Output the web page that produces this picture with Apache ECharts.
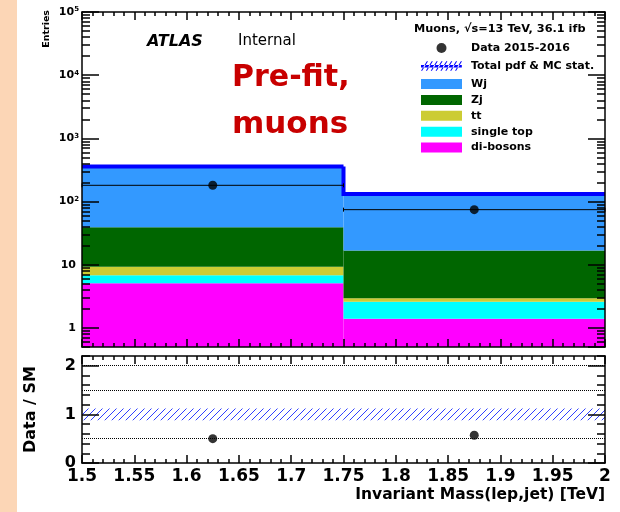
<!DOCTYPE html>
<html>
<head>
<meta charset="utf-8">
<script src="https://cdn.jsdelivr.net/npm/echarts@6/dist/echarts.min.js"></script>
<style>
html, body { margin: 0; padding: 0; background: #fff; }
#chart-container { width: 620px; height: 512px; }
</style>
</head>
<body>
<div id="chart-container"></div>
<script>
// bins of the invariant mass histogram [TeV]
const binLow = [1.5, 1.75];
const binHigh = [1.75, 2.0];
const binCenter = [1.625, 1.875];

// MC stack, bottom to top
const diBosons = [5.1, 1.4];
const singleTop = [1.7, 1.2];
const ttbar = [2.5, 0.35];
const zJets = [30, 13.8];
const wJets = [320, 115];

// data and ratio panel
const dataCounts = [181, 74.5];
const ratioValues = [0.50, 0.57];
const mcRelUnc = [0.03, 0.03];
const ratioBandUnc = [0.12, 0.12];

// ticks
const ratioLabelTicks = [0, 1, 2];
const ratioGridLines = [0.5, 1.5, 2];

const FONT = "'DejaVu Sans', sans-serif";
const Y_MIN = 0.5, Y_MAX = 1e5;
const TICK_W = 1.5;

const stackNames = ['di-bosons', 'single top', 'tt', 'Zj', 'Wj'];
const stackColors = ['#FF00FF', '#00FFFF', '#CCCC33', '#006600', '#3399FF'];
const stackValues = [diBosons, singleTop, ttbar, zJets, wJets];

// minor ticks of the log axis
const minorLogTicks = [];
[0.1, 1, 10, 100, 1000, 10000].forEach(function (d) {
    for (let m = 2; m <= 9; m++) {
        const v = d * m;
        if (v >= Y_MIN && v < Y_MAX) minorLogTicks.push(v);
    }
});

function hatch(color) {
    const c = document.createElement('canvas');
    c.width = 7; c.height = 7;
    const g = c.getContext('2d');
    g.strokeStyle = color;
    g.lineWidth = 1;
    g.beginPath();
    [-7, 0, 7].forEach(function (k) {
        g.moveTo(k, 7);
        g.lineTo(k + 7, 0);
    });
    g.stroke();
    return { image: c, repeat: 'repeat' };
}
const hatchFill = hatch('#3040ff');

// stacked boxes
const series = [];
let running = binLow.map(function () { return 0; });
stackValues.forEach(function (vals, s) {
    const color = stackColors[s];
    const data = vals.map(function (v, i) {
        const lo = Math.max(running[i], Y_MIN);
        return [binLow[i], binHigh[i], lo, running[i] + v];
    });
    running = running.map(function (r, i) { return r + vals[i]; });
    series.push({
        name: stackNames[s],
        type: 'custom',
        xAxisIndex: 0, yAxisIndex: 0,
        z: 2, silent: true,
        itemStyle: { color: color },
        encode: { x: [0, 1], y: [2, 3] },
        data: data,
        renderItem: function (params, api) {
            const a = api.coord([api.value(0), api.value(3)]);
            const b = api.coord([api.value(1), api.value(2)]);
            return {
                type: 'rect',
                shape: { x: a[0], y: a[1], width: b[0] - a[0], height: b[1] - a[1] },
                style: { fill: color }
            };
        }
    });
});
const totals = running;

// total MC line + hatched stat band
series.push({
    name: 'Total pdf & MC stat.',
    type: 'custom',
    xAxisIndex: 0, yAxisIndex: 0,
    z: 3, silent: true,
    itemStyle: { color: '#0000FF' },
    encode: { x: [0, 1], y: [2] },
    data: totals.map(function (t, i) {
        return [binLow[i], binHigh[i], t, i > 0 ? totals[i - 1] : t, mcRelUnc[i]];
    }),
    renderItem: function (params, api) {
        const t = api.value(2), u = api.value(4);
        const hi = api.coord([api.value(0), t * (1 + u)]);
        const lo = api.coord([api.value(1), t * (1 - u)]);
        const p0 = api.coord([api.value(0), api.value(3)]);
        const p1 = api.coord([api.value(0), t]);
        const p2 = api.coord([api.value(1), t]);
        return {
            type: 'group',
            children: [{
                type: 'rect',
                shape: { x: hi[0], y: hi[1], width: lo[0] - hi[0], height: lo[1] - hi[1] },
                style: { fill: hatchFill }
            }, {
                type: 'polyline',
                shape: { points: [p0, p1, p2] },
                style: { stroke: '#0000FF', lineWidth: 4, fill: null }
            }]
        };
    }
});

// data x error bars
series.push({
    name: 'dataErr',
    type: 'custom',
    xAxisIndex: 0, yAxisIndex: 0,
    z: 4, silent: true,
    encode: { x: [0, 1], y: [2] },
    data: dataCounts.map(function (v, i) { return [binLow[i], binHigh[i], v]; }),
    renderItem: function (params, api) {
        const a = api.coord([api.value(0), api.value(2)]);
        const b = api.coord([api.value(1), api.value(2)]);
        return {
            type: 'group',
            children: [{
                type: 'line',
                shape: { x1: a[0], y1: a[1], x2: b[0], y2: b[1] },
                style: { stroke: '#000', lineWidth: 1 }
            }, {
                type: 'line',
                shape: { x1: a[0], y1: a[1] - 2, x2: a[0], y2: a[1] + 2 },
                style: { stroke: '#000', lineWidth: 1 }
            }, {
                type: 'line',
                shape: { x1: b[0], y1: b[1] - 2, x2: b[0], y2: b[1] + 2 },
                style: { stroke: '#000', lineWidth: 1 }
            }]
        };
    }
});

series.push({
    name: 'Data 2015-2016',
    type: 'scatter',
    xAxisIndex: 0, yAxisIndex: 0,
    z: 5, silent: true,
    symbol: 'circle', symbolSize: 9,
    itemStyle: { color: '#000' },
    data: dataCounts.map(function (v, i) { return [binCenter[i], v]; })
});

// ratio panel
series.push({
    name: 'ratioBand',
    type: 'custom',
    xAxisIndex: 2, yAxisIndex: 4,
    z: 2, silent: true,
    encode: { x: [0, 1], y: [2, 3] },
    data: ratioBandUnc.map(function (u, i) { return [binLow[i], binHigh[i], 1 - u, 1 + u]; }),
    renderItem: function (params, api) {
        const a = api.coord([api.value(0), api.value(3)]);
        const b = api.coord([api.value(1), api.value(2)]);
        return {
            type: 'rect',
            shape: { x: a[0], y: a[1], width: b[0] - a[0], height: b[1] - a[1] },
            style: { fill: hatchFill }
        };
    }
});

series.push({
    name: 'ratio',
    type: 'scatter',
    xAxisIndex: 2, yAxisIndex: 4,
    z: 5, silent: true,
    symbol: 'circle', symbolSize: 9,
    itemStyle: { color: '#000' },
    data: ratioValues.map(function (v, i) { return [binCenter[i], v]; }),
    markLine: {
        silent: true, symbol: 'none', z: 1,
        label: { show: false },
        lineStyle: { type: 'dotted', color: '#000', width: 1 },
        data: ratioGridLines.map(function (v) { return { yAxis: v }; })
    }
});

function xAxisFor(grid, pos, withLabels) {
    return {
        gridIndex: grid, type: 'value', min: 1.5, max: 2, interval: 0.05,
        position: pos, z: 10,
        axisLine: { show: true, onZero: false, lineStyle: { color: '#000', width: 1.5 } },
        axisTick: { show: true, inside: true, length: 8, lineStyle: { color: '#000', width: TICK_W } },
        minorTick: { show: true, splitNumber: 5, length: 4, lineStyle: { color: '#000', width: TICK_W } },
        splitLine: { show: false },
        axisLabel: withLabels ? {
            show: true, interval: 0, margin: 5, color: '#000',
            fontFamily: FONT, fontWeight: 'bold', fontSize: 17
        } : { show: false }
    };
}

function logAxis(pos, minor, withLabels) {
    const ax = {
        gridIndex: 0, type: 'log', logBase: 10, min: Y_MIN, max: Y_MAX,
        splitNumber: 5, position: pos, z: 10,
        axisLine: { show: !minor, onZero: false, lineStyle: { color: '#000', width: 1.5 } },
        axisTick: { show: true, inside: true, length: minor ? 8 : 17, lineStyle: { color: '#000', width: TICK_W } },
        splitLine: { show: false },
        axisLabel: { show: false }
    };
    if (minor) ax.axisTick.customValues = minorLogTicks;
    if (withLabels) {
        ax.axisLabel = {
            show: true, margin: 3, color: '#000',
            fontFamily: FONT, fontWeight: 'bold', fontSize: 11,
            showMinLabel: false,
            formatter: function (v) {
                const e = Math.round(Math.log10(v));
                if (Math.abs(Math.log10(v) - e) > 1e-6) return '';
                if (e < 2) return String(Math.pow(10, e)) + '{pad|}';
                return '10{sup|' + e + '}';
            },
            rich: {
                sup: { fontSize: 7, fontWeight: 'bold', fontFamily: FONT, color: '#000', verticalAlign: 'top', padding: [0, 0, 5, 0] },
                pad: { width: 3 }
            }
        };
    }
    return ax;
}

function ratioAxis(pos, minor, withLabels) {
    const ax = {
        gridIndex: 1, type: 'value', min: 0, max: 2.2, position: pos, z: 10,
        axisLine: { show: !minor, onZero: false, lineStyle: { color: '#000', width: 1.5 } },
        axisTick: { show: true, inside: true, length: minor ? 8 : 17, lineStyle: { color: '#000', width: TICK_W } },
        splitLine: { show: false },
        axisLabel: { show: false }
    };
    if (minor) {
        ax.interval = 0.2;
    } else {
        ax.interval = 1;
        ax.axisTick.customValues = ratioLabelTicks;
    }
    if (withLabels) {
        ax.axisLabel = {
            show: true, margin: 6, color: '#000', customValues: ratioLabelTicks,
            fontFamily: FONT, fontWeight: 'bold', fontSize: 16
        };
        ax.name = 'Data / SM';
        ax.nameLocation = 'middle';
        ax.nameGap = 43;
        ax.nameRotate = 90;
        ax.nameTextStyle = { fontFamily: FONT, fontWeight: 'bold', fontSize: 16, color: '#000' };
    }
    return ax;
}

const legendText = { fontFamily: FONT, fontWeight: 'bold', fontSize: 11, color: '#000', lineHeight: 12, padding: [0, 0, 0, 4] };

let totalIcon = 'path://M0,4L42,4L42,6.5L0,6.5Z';
for (let x = 0; x <= 35; x += 5) {
    totalIcon += 'M' + x + ',10L' + (x + 1.2) + ',10L' + (x + 7.2) + ',0L' + (x + 6) + ',0Z';
}

const option = {
    animation: false,
    backgroundColor: '#fff',
    grid: [
        { left: 82, top: 12, width: 523, height: 335 },
        { left: 82, top: 356, width: 523, height: 107 }
    ],
    xAxis: [
        xAxisFor(0, 'bottom', false),
        xAxisFor(0, 'top', false),
        xAxisFor(1, 'bottom', true),
        xAxisFor(1, 'top', false)
    ],
    yAxis: [
        logAxis('left', false, true),
        logAxis('left', true, false),
        logAxis('right', false, false),
        logAxis('right', true, false),
        ratioAxis('left', false, true),
        ratioAxis('left', true, false),
        ratioAxis('right', false, false),
        ratioAxis('right', true, false)
    ],
    legend: [{
        left: 416, top: 37, orient: 'vertical',
        itemWidth: 41, itemHeight: 10, itemGap: 6, selectedMode: false,
        textStyle: legendText,
        data: [
            { name: 'Data 2015-2016', icon: 'circle', itemStyle: { color: '#000' } },
            { name: 'Total pdf & MC stat.', icon: totalIcon, itemStyle: { color: '#0000FF' } }
        ]
    }, {
        left: 416, top: 73, orient: 'vertical',
        itemWidth: 41, itemHeight: 10, itemGap: 3.9, selectedMode: false,
        textStyle: legendText,
        data: ['Wj', 'Zj', 'tt', 'single top', 'di-bosons'].map(function (n) {
            return { name: n, icon: 'rect', itemStyle: { color: stackColors[stackNames.indexOf(n)] } };
        })
    }],
    graphic: [
        { type: 'rect', left: 0, top: 0, shape: { width: 17, height: 512 }, style: { fill: '#FCD6B6' }, silent: true },
        { type: 'text', x: 147, y: 41.5, style: { text: 'ATLAS', fill: '#000', font: "italic bold 16px 'DejaVu Sans'", align: 'left', verticalAlign: 'middle' } },
        { type: 'text', x: 238, y: 41.5, style: { text: 'Internal', fill: '#000', font: "normal 15px 'DejaVu Sans'", align: 'left', verticalAlign: 'middle' } },
        { type: 'text', x: 232, y: 78, style: { text: 'Pre-fit,', fill: '#C80000', font: "bold 30px 'DejaVu Sans'", align: 'left', verticalAlign: 'middle' } },
        { type: 'text', x: 232, y: 125, style: { text: 'muons', fill: '#C80000', font: "bold 31px 'DejaVu Sans'", align: 'left', verticalAlign: 'middle' } },
        { type: 'text', x: 414, y: 28.7, style: { text: 'Muons, \u221As=13 TeV, 36.1 ifb', fill: '#000', font: "bold 11.3px 'DejaVu Sans'", align: 'left', verticalAlign: 'middle' } },
        { type: 'text', x: 46.5, y: 10, rotation: Math.PI / 2, style: { text: 'Entries', fill: '#000', font: "bold 9.5px 'DejaVu Sans'", align: 'right', verticalAlign: 'middle' } },
        { type: 'text', x: 605, y: 495, style: { text: 'Invariant Mass(lep,jet) [TeV]', fill: '#000', font: "bold 15.5px 'DejaVu Sans'", align: 'right', verticalAlign: 'middle' } }
    ],
    series: series
};

const chart = echarts.init(document.getElementById('chart-container'), null, {
    renderer: 'canvas', width: 620, height: 512, devicePixelRatio: 1
});
chart.setOption(option);
</script>
</body>
</html>
